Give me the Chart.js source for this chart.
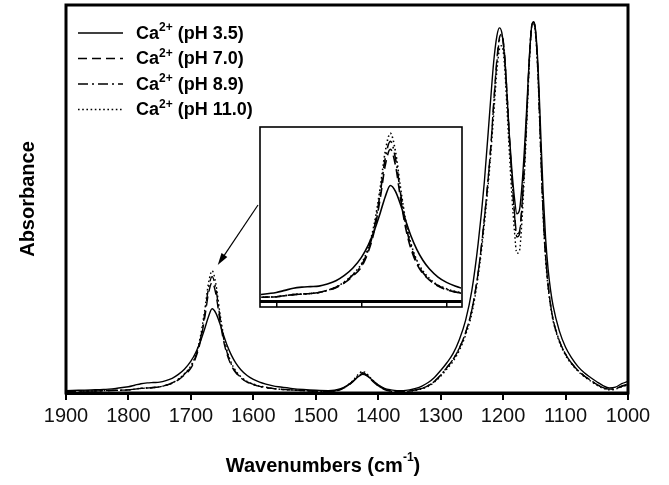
<!DOCTYPE html>
<html>
<head>
<meta charset="utf-8">
<script src="https://cdn.jsdelivr.net/npm/chart.js@4.4.1/dist/chart.umd.min.js"></script>
<style>
  html, body { margin: 0; padding: 0; background: #fff; }
  #wrap { position: relative; width: 669px; height: 485px; }
  #chartMain { position: absolute; left: 0; top: 0; }
  #chartInset { position: absolute; left: 256px; top: 123px; }
</style>
</head>
<body>
<div id="wrap">
  <canvas id="chartMain" width="669" height="485"></canvas>
  <canvas id="chartInset" width="210" height="190"></canvas>
</div>
<script>
// wavenumbers (cm-1), shared by all four spectra
const wavenumbers = [
  1900,1880,1860,1840,1820,1800,1790,1780,1770,1760,
  1750,1740,1730,1720,1710,1700,1692,1685,1678,1672,
  1666,1660,1654,1648,1642,1635,1628,1620,1610,1600,
  1590,1580,1570,1560,1540,1520,1500,1480,1470,1460,
  1450,1440,1432,1425,1418,1410,1400,1390,1380,1370,
  1360,1350,1340,1330,1320,1310,1300,1290,1280,1270,
  1260,1250,1240,1230,1220,1215,1210,1206,1202,1198,
  1194,1190,1186,1182,1178,1174,1170,1166,1162,1158,
  1154,1151,1148,1144,1140,1136,1132,1128,1124,1120,
  1110,1100,1090,1080,1070,1060,1050,1040,1030,1020,
  1010,1000
];

// absorbance (arbitrary units, 0..1)
const absPh35 = [
  0.006,0.007,0.008,0.009,0.012,0.016,0.020,0.024,0.026,0.027,
  0.028,0.032,0.038,0.048,0.062,0.082,0.105,0.132,0.165,0.196,
  0.217,0.206,0.181,0.151,0.123,0.097,0.077,0.060,0.045,0.035,
  0.028,0.023,0.019,0.016,0.012,0.009,0.007,0.006,0.007,0.011,
  0.019,0.031,0.042,0.048,0.044,0.034,0.021,0.012,0.008,0.006,
  0.006,0.008,0.012,0.018,0.027,0.040,0.058,0.078,0.102,0.138,
  0.188,0.265,0.385,0.545,0.755,0.855,0.920,0.941,0.928,0.870,
  0.775,0.665,0.575,0.505,0.462,0.470,0.530,0.625,0.740,0.865,
  0.948,0.957,0.935,0.840,0.680,0.520,0.400,0.320,0.265,0.225,
  0.160,0.118,0.090,0.068,0.052,0.040,0.029,0.019,0.013,0.015,
  0.024,0.030
];
const absPh70 = [
  0.004,0.005,0.005,0.006,0.007,0.008,0.010,0.012,0.013,0.014,
  0.016,0.020,0.025,0.034,0.047,0.064,0.092,0.131,0.192,0.255,
  0.285,0.255,0.192,0.137,0.099,0.070,0.052,0.039,0.028,0.021,
  0.017,0.014,0.012,0.010,0.008,0.006,0.005,0.004,0.005,0.009,
  0.017,0.030,0.043,0.050,0.045,0.032,0.018,0.009,0.005,0.004,
  0.004,0.005,0.008,0.012,0.019,0.030,0.046,0.066,0.087,0.116,
  0.156,0.215,0.310,0.450,0.630,0.750,0.860,0.915,0.925,0.880,
  0.780,0.660,0.560,0.470,0.410,0.415,0.480,0.590,0.720,0.860,
  0.948,0.955,0.930,0.820,0.640,0.470,0.355,0.280,0.228,0.190,
  0.135,0.100,0.076,0.058,0.044,0.033,0.022,0.014,0.010,0.011,
  0.017,0.022
];
const absPh89 = [
  0.004,0.005,0.005,0.006,0.007,0.008,0.010,0.012,0.013,0.014,
  0.016,0.020,0.026,0.035,0.049,0.067,0.096,0.137,0.202,0.268,
  0.300,0.268,0.202,0.144,0.104,0.073,0.054,0.040,0.029,0.022,
  0.017,0.014,0.012,0.010,0.008,0.006,0.005,0.004,0.005,0.010,
  0.018,0.031,0.045,0.052,0.046,0.033,0.019,0.010,0.005,0.004,
  0.004,0.005,0.008,0.012,0.019,0.030,0.046,0.066,0.087,0.116,
  0.156,0.215,0.310,0.450,0.628,0.745,0.852,0.908,0.920,0.878,
  0.778,0.658,0.555,0.465,0.402,0.408,0.475,0.588,0.720,0.860,
  0.948,0.955,0.930,0.820,0.640,0.470,0.355,0.280,0.228,0.190,
  0.135,0.100,0.076,0.058,0.044,0.033,0.022,0.014,0.010,0.011,
  0.018,0.023
];
const absPh110 = [
  0.004,0.005,0.005,0.006,0.007,0.008,0.010,0.012,0.013,0.014,
  0.016,0.020,0.026,0.036,0.050,0.070,0.100,0.144,0.212,0.281,
  0.315,0.281,0.212,0.151,0.109,0.077,0.057,0.042,0.030,0.023,
  0.018,0.015,0.012,0.010,0.008,0.006,0.004,0.003,0.005,0.010,
  0.019,0.033,0.048,0.056,0.049,0.035,0.020,0.010,0.005,0.003,
  0.003,0.004,0.007,0.011,0.017,0.028,0.043,0.062,0.082,0.110,
  0.150,0.205,0.300,0.435,0.610,0.720,0.830,0.885,0.895,0.850,
  0.740,0.620,0.510,0.420,0.360,0.365,0.440,0.560,0.700,0.850,
  0.945,0.950,0.925,0.810,0.630,0.460,0.345,0.272,0.222,0.186,
  0.132,0.097,0.074,0.056,0.042,0.031,0.020,0.012,0.008,0.010,
  0.016,0.021
];

const seriesLabels = ['pH 3.5', 'pH 7.0', 'pH 8.9', 'pH 11.0'];
const xTickValues = [1900, 1800, 1700, 1600, 1500, 1400, 1300, 1200, 1100, 1000];
const insetTickValues = [1800, 1700, 1600];

const FONT = "'Liberation Sans', Arial, Helvetica, sans-serif";
const INK = '#000';
const seriesValues = [absPh35, absPh70, absPh89, absPh110];
const dashes = [[], [9, 5], [10, 4, 2, 4], [1.6, 2.6]];

function makeDatasets(width) {
  return seriesValues.map((vals, i) => ({
    label: seriesLabels[i],
    data: wavenumbers.map((w, j) => ({ x: w, y: vals[j] })),
    borderColor: INK,
    borderWidth: width,
    borderDash: dashes[i],
    pointRadius: 0,
    fill: false,
    cubicInterpolationMode: 'monotone'
  }));
}

// draws "base" + superscript + "tail" starting at x, returns end x
function supText(ctx, x, y, base, sup, tail, size, supSize, rise) {
  ctx.font = 'bold ' + size + 'px ' + FONT;
  ctx.fillText(base, x, y);
  x += ctx.measureText(base).width;
  ctx.font = 'bold ' + supSize + 'px ' + FONT;
  ctx.fillText(sup, x, y - rise);
  x += ctx.measureText(sup).width;
  ctx.font = 'bold ' + size + 'px ' + FONT;
  ctx.fillText(tail, x, y);
  return x + ctx.measureText(tail).width;
}
function supWidth(ctx, base, sup, tail, size, supSize) {
  ctx.font = 'bold ' + size + 'px ' + FONT;
  let w = ctx.measureText(base).width + ctx.measureText(tail).width;
  ctx.font = 'bold ' + supSize + 'px ' + FONT;
  return w + ctx.measureText(sup).width;
}

const mainDecor = {
  id: 'mainDecor',
  afterDraw(chart) {
    const { ctx, chartArea: a, scales } = chart;
    ctx.save();
    ctx.setLineDash([]);
    ctx.strokeStyle = '#000';
    ctx.lineWidth = 3;
    ctx.strokeRect(a.left, a.top, a.right - a.left, a.bottom - a.top);

    // legend
    ctx.fillStyle = '#000';
    ctx.textBaseline = 'middle';
    ctx.textAlign = 'left';
    seriesLabels.forEach((lab, i) => {
      const y = a.top + 28 + i * 25.5;
      ctx.strokeStyle = INK;
      ctx.lineWidth = 1.3;
      ctx.setLineDash(dashes[i]);
      ctx.beginPath();
      ctx.moveTo(a.left + 12, y);
      ctx.lineTo(a.left + 57, y);
      ctx.stroke();
      ctx.setLineDash([]);
      supText(ctx, a.left + 70, y + 1, 'Ca', '2+', ' (' + lab + ')', 18, 12, 6);
    });

    // axis titles
    const tw = supWidth(ctx, 'Wavenumbers (cm', '-1', ')', 20, 12);
    supText(ctx, 323 - tw / 2, 466, 'Wavenumbers (cm', '-1', ')', 20, 12, 8);

    ctx.save();
    ctx.translate(28, (a.top + a.bottom) / 2);
    ctx.rotate(-Math.PI / 2);
    ctx.textAlign = 'center';
    ctx.font = 'bold 20px ' + FONT;
    ctx.fillText('Absorbance', 0, 0);
    ctx.restore();

    // arrow from the inset to the amide band
    const x0 = 258, y0 = 205;
    const x1 = scales.x.getPixelForValue(1657);
    const y1 = scales.y.getPixelForValue(0.33);
    const ang = Math.atan2(y1 - y0, x1 - x0);
    ctx.strokeStyle = INK;
    ctx.lineWidth = 1.2;
    ctx.beginPath();
    ctx.moveTo(x0, y0);
    ctx.lineTo(x1 - 8 * Math.cos(ang), y1 - 8 * Math.sin(ang));
    ctx.stroke();
    ctx.fillStyle = INK;
    ctx.beginPath();
    ctx.moveTo(x1, y1);
    ctx.lineTo(x1 - 12 * Math.cos(ang) + 3.5 * Math.sin(ang), y1 - 12 * Math.sin(ang) - 3.5 * Math.cos(ang));
    ctx.lineTo(x1 - 12 * Math.cos(ang) - 3.5 * Math.sin(ang), y1 - 12 * Math.sin(ang) + 3.5 * Math.cos(ang));
    ctx.closePath();
    ctx.fill();
    ctx.restore();
  }
};

const insetDecor = {
  id: 'insetDecor',
  beforeDraw(chart) {
    const { ctx, chartArea: a } = chart;
    ctx.save();
    ctx.fillStyle = '#fff';
    ctx.fillRect(a.left - 1, a.top - 1, a.right - a.left + 2, a.bottom - a.top + 7);
    ctx.restore();
  },
  afterDraw(chart) {
    const { ctx, chartArea: a } = chart;
    ctx.save();
    ctx.setLineDash([]);
    ctx.strokeStyle = '#000';
    ctx.lineWidth = 1.6;
    ctx.strokeRect(a.left - 1, a.top - 1, a.right - a.left + 2, a.bottom - a.top + 7);
    ctx.restore();
  }
};

new Chart(document.getElementById('chartMain'), {
  type: 'line',
  data: { datasets: makeDatasets(1.4) },
  options: {
    responsive: false,
    animation: false,
    devicePixelRatio: 1,
    layout: { padding: { left: 66, top: 5, right: 41, bottom: 53 } },
    plugins: { legend: { display: false }, tooltip: { enabled: false } },
    scales: {
      x: {
        type: 'linear',
        min: 1000,
        max: 1900,
        reverse: true,
        afterBuildTicks: axis => { axis.ticks = xTickValues.map(v => ({ value: v })); },
        ticks: {
          color: '#111', font: { family: FONT, size: 20 }, padding: 4,
          maxRotation: 0, autoSkip: false, callback: v => String(v)
        },
        grid: { drawOnChartArea: false, drawTicks: true, tickLength: 7, color: '#000', lineWidth: 2 },
        border: { display: true, color: '#000', width: 3 }
      },
      y: { display: false, min: 0, max: 1 }
    }
  },
  plugins: [mainDecor]
});

new Chart(document.getElementById('chartInset'), {
  type: 'line',
  data: { datasets: makeDatasets(1.6) },
  options: {
    responsive: false,
    animation: false,
    devicePixelRatio: 1,
    layout: { padding: { left: 5, top: 5, right: 5, bottom: 6 } },
    plugins: { legend: { display: false }, tooltip: { enabled: false } },
    scales: {
      x: {
        type: 'linear',
        min: 1583,
        max: 1818,
        reverse: true,
        afterBuildTicks: axis => { axis.ticks = insetTickValues.map(v => ({ value: v })); },
        ticks: { display: false },
        grid: { drawOnChartArea: false, drawTicks: true, tickLength: 6, color: '#000', lineWidth: 1.5 },
        border: { display: true, color: '#000', width: 3 }
      },
      y: { display: false, min: 0, max: 0.325 }
    }
  },
  plugins: [insetDecor]
});
</script>
</body>
</html>
